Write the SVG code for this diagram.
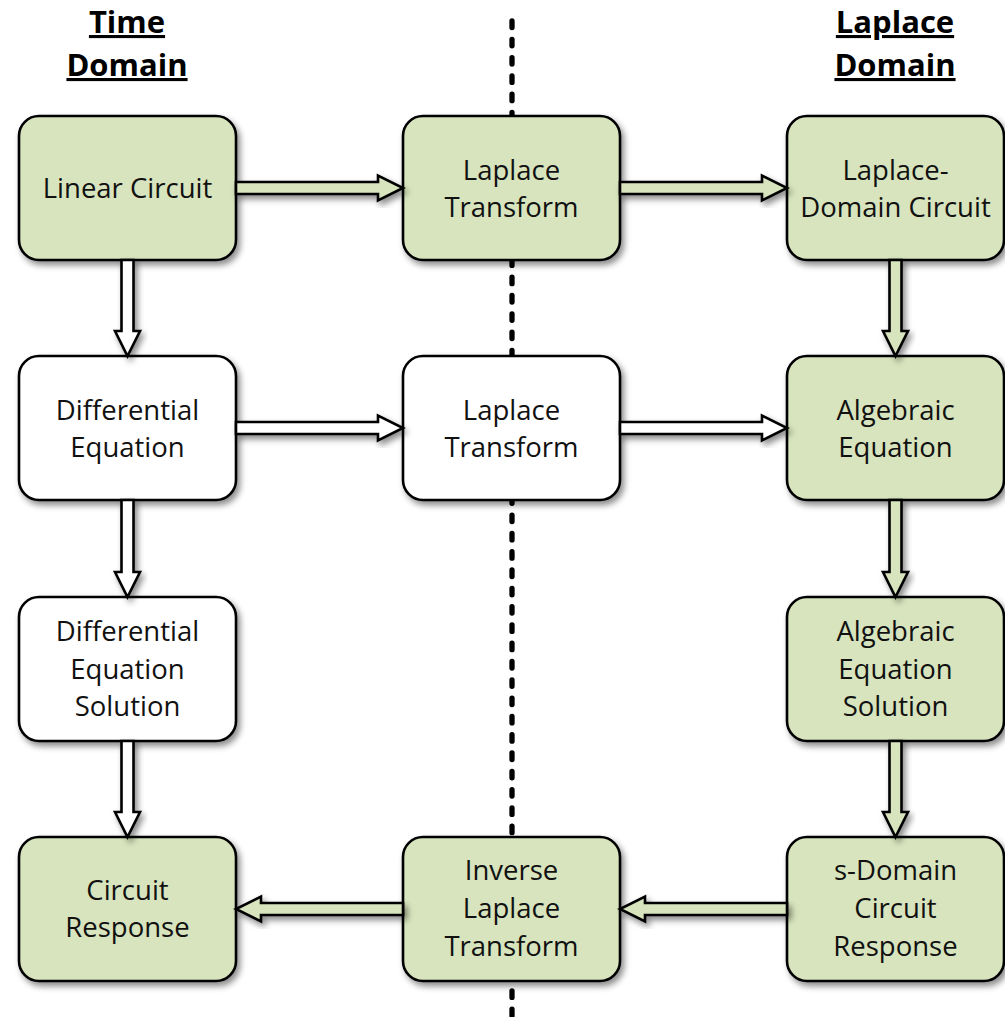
<svg xmlns="http://www.w3.org/2000/svg" width="1005" height="1017" viewBox="0 0 1005 1017">
  <defs>
    <filter id="shadow" x="-20%" y="-20%" width="150%" height="150%">
      <feDropShadow dx="3" dy="4" stdDeviation="3" flood-color="#000" flood-opacity="0.45"/>
    </filter>
    <style>
      .box { stroke: #000; stroke-width: 2.6; filter: url(#shadow); }
      .green { fill: #d7e4bd; }
      .white { fill: #ffffff; }
      .arrow { stroke: #000; stroke-width: 2.6; stroke-linejoin: miter; filter: url(#shadow); }
      .label { font-family: "Open Sans", "Noto Sans", sans-serif; font-size: 27.5px; fill: #111; text-anchor: middle; }
      .head { font-family: "Open Sans", "Noto Sans", sans-serif; font-size: 31px; font-weight: 700; fill: #000; text-anchor: middle; text-decoration: underline; }
      .divider { stroke: #000; stroke-width: 5.3; stroke-linecap: round; stroke-dasharray: 6.5 11.8; fill: none; }
    </style>
  </defs>

  <rect width="1005" height="1017" fill="#ffffff"/>

  <!-- column headings -->
  <g id="heading-time">
    <text class="head" x="127" y="33">Time</text>
    <text class="head" x="127" y="76">Domain</text>
  </g>
  <g id="heading-laplace">
    <text class="head" x="895" y="33">Laplace</text>
    <text class="head" x="895" y="76">Domain</text>
  </g>

  <!-- dotted divider between the two domains -->
  <line class="divider" x1="512" y1="21" x2="512" y2="1017"/>

  <!-- row 1 -->
  <g id="linear-circuit">
    <rect class="box green" x="19" y="116" width="217" height="144" rx="20"/>
    <text class="label" x="127.5" y="198">Linear Circuit</text>
  </g>
  <g id="laplace-transform-1">
    <rect class="box green" x="403" y="116" width="217" height="144" rx="20"/>
    <text class="label" x="511.5" y="180">Laplace</text>
    <text class="label" x="511.5" y="217">Transform</text>
  </g>
  <g id="laplace-domain-circuit">
    <rect class="box green" x="787" y="116" width="217" height="144" rx="20"/>
    <text class="label" x="895.5" y="180">Laplace-</text>
    <text class="label" x="895.5" y="217">Domain Circuit</text>
  </g>

  <!-- row 2 -->
  <g id="differential-equation">
    <rect class="box white" x="19" y="356" width="217" height="144" rx="20"/>
    <text class="label" x="127.5" y="420">Differential</text>
    <text class="label" x="127.5" y="457">Equation</text>
  </g>
  <g id="laplace-transform-2">
    <rect class="box white" x="403" y="356" width="217" height="144" rx="20"/>
    <text class="label" x="511.5" y="420">Laplace</text>
    <text class="label" x="511.5" y="457">Transform</text>
  </g>
  <g id="algebraic-equation">
    <rect class="box green" x="787" y="356" width="217" height="144" rx="20"/>
    <text class="label" x="895.5" y="420">Algebraic</text>
    <text class="label" x="895.5" y="457">Equation</text>
  </g>

  <!-- row 3 -->
  <g id="differential-equation-solution">
    <rect class="box white" x="19" y="597" width="217" height="144" rx="20"/>
    <text class="label" x="127.5" y="641">Differential</text>
    <text class="label" x="127.5" y="679">Equation</text>
    <text class="label" x="127.5" y="716">Solution</text>
  </g>
  <g id="algebraic-equation-solution">
    <rect class="box green" x="787" y="597" width="217" height="144" rx="20"/>
    <text class="label" x="895.5" y="641">Algebraic</text>
    <text class="label" x="895.5" y="679">Equation</text>
    <text class="label" x="895.5" y="716">Solution</text>
  </g>

  <!-- row 4 -->
  <g id="circuit-response">
    <rect class="box green" x="19" y="837" width="217" height="144" rx="20"/>
    <text class="label" x="127.5" y="900">Circuit</text>
    <text class="label" x="127.5" y="937">Response</text>
  </g>
  <g id="inverse-laplace-transform">
    <rect class="box green" x="403" y="837" width="217" height="144" rx="20"/>
    <text class="label" x="511.5" y="880">Inverse</text>
    <text class="label" x="511.5" y="918">Laplace</text>
    <text class="label" x="511.5" y="956">Transform</text>
  </g>
  <g id="s-domain-circuit-response">
    <rect class="box green" x="787" y="837" width="217" height="144" rx="20"/>
    <text class="label" x="895.5" y="880">s-Domain</text>
    <text class="label" x="895.5" y="918">Circuit</text>
    <text class="label" x="895.5" y="956">Response</text>
  </g>

  <!-- block arrows -->
  <g id="connectors">
    <!-- row 1, rightwards -->
    <path class="arrow green" d="M236,182 H378 V175.5 L403,188 L378,200.5 V194 H236 Z"/>
    <path class="arrow green" d="M620,182 H762 V175.5 L787,188 L762,200.5 V194 H620 Z"/>
    <!-- row 2, rightwards -->
    <path class="arrow white" d="M236,422 H378 V415.5 L403,428 L378,440.5 V434 H236 Z"/>
    <path class="arrow white" d="M620,422 H762 V415.5 L787,428 L762,440.5 V434 H620 Z"/>
    <!-- row 4, leftwards -->
    <path class="arrow green" d="M787,903 H645 V896.5 L620,909 L645,921.5 V915 H787 Z"/>
    <path class="arrow green" d="M403,903 H261 V896.5 L236,909 L261,921.5 V915 H403 Z"/>
    <!-- left column, downwards -->
    <path class="arrow white" d="M121.5,260 V331 H115 L127.5,356 L140,331 H133.5 V260 Z"/>
    <path class="arrow white" d="M121.5,500 V572 H115 L127.5,597 L140,572 H133.5 V500 Z"/>
    <path class="arrow white" d="M121.5,741 V812 H115 L127.5,837 L140,812 H133.5 V741 Z"/>
    <!-- right column, downwards -->
    <path class="arrow green" d="M889.5,260 V331 H883 L895.5,356 L908,331 H901.5 V260 Z"/>
    <path class="arrow green" d="M889.5,500 V572 H883 L895.5,597 L908,572 H901.5 V500 Z"/>
    <path class="arrow green" d="M889.5,741 V812 H883 L895.5,837 L908,812 H901.5 V741 Z"/>
  </g>
</svg>
